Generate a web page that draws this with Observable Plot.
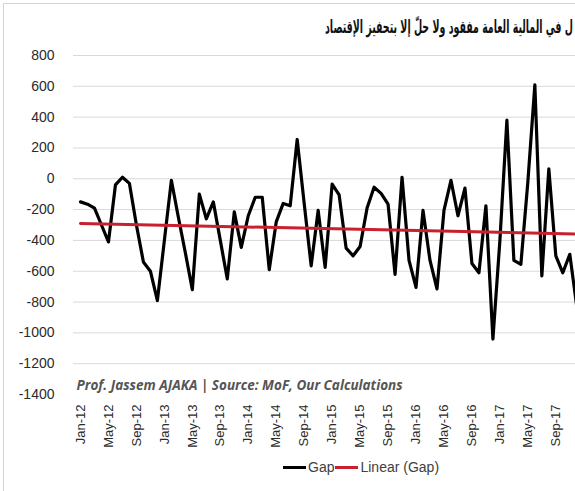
<!DOCTYPE html>
<html>
<head>
<meta charset="utf-8">
<script src="https://cdn.jsdelivr.net/npm/d3@7"></script>
<script src="https://cdn.jsdelivr.net/npm/@observablehq/plot@0.6"></script>
<style>
  html, body { margin: 0; padding: 0; width: 575px; height: 491px; overflow: hidden; background: #fff; }
  #wrap { position: relative; width: 575px; height: 491px; overflow: hidden; }
  #frame { position: absolute; left: 3px; top: 3px; width: 600px; height: 600px; border-left: 1px solid #d4d4d4; border-top: 1px solid #d4d4d4; }
  #title { position: absolute; left: 0; top: 16px; white-space: nowrap; font-family: "DejaVu Sans", sans-serif; font-weight: bold; font-size: 18px; color: #111; transform-origin: 0 0; }
  #chart { position: absolute; left: 0; top: 0; }
  #chart svg { max-width: none !important; }
  #legend { position: absolute; top: 459px; left: 283px; font-family: "Liberation Sans", Arial, sans-serif; font-size: 14px; color: #404040; white-space: nowrap; display: flex; align-items: center; }
  #legend .sw { display: inline-block; width: 23px; height: 3px; margin-right: 2px; }
  #legend .item { display: flex; align-items: center; margin-right: 1px; }
</style>
</head>
<body>
<div id="wrap">
  <div id="frame"></div>
  <div id="chart"></div>
  <div id="title"></div>
  <div id="legend"></div>
</div>
<script>
// ---- data ----
const titleText = "ل في المالية العامة مفقود ولا حلّ إلا بتحفيز الإقتصاد";
const noteText = ["Prof. Jassem AJAKA | Source: MoF, Our Calculations"];
const seriesNames = ["Gap", "Linear (Gap)"];
const seriesColors = ["#000000", "#c8202e"];

// monthly gap, Jan-12 ... Dec-17
const gap2012 = [-150, -165, -190, -300, -410, -40, 10, -30, -300, -540, -600, -790];
const gap2013 = [-400, -10, -250, -480, -720, -100, -260, -150, -400, -650, -215, -445];
const gap2014 = [-240, -120, -120, -590, -280, -160, -175, 255, -160, -565, -205, -575];
const gap2015 = [-35, -105, -450, -500, -440, -190, -55, -95, -165, -620, 10, -530];
const gap2016 = [-705, -205, -530, -715, -205, -10, -240, -60, -550, -610, -175, -1040];
const gap2017 = [-400, 380, -530, -555, -20, 610, -630, 65, -500, -610, -490, -830];

// linear trend at first and last month
const trendEnds = [-290, -358];

const tickLabels = ["Jan-12","May-12","Sep-12","Jan-13","May-13","Sep-13","Jan-14","May-14","Sep-14",
                    "Jan-15","May-15","Sep-15","Jan-16","May-16","Sep-16","Jan-17","May-17","Sep-17"];
const yTicks = [-1400, -1200, -1000, -800, -600, -400, -200, 0, 200, 400, 600, 800];

// ---- build tables ----
const gapValues = [...gap2012, ...gap2013, ...gap2014, ...gap2015, ...gap2016, ...gap2017];
const gapData = gapValues.map((v, i) => ({m: i, v}));
const trendData = [{m: 0, v: trendEnds[0]}, {m: gapValues.length - 1, v: trendEnds[1]}];
const tickIdx = tickLabels.map((_, k) => k * 4);

// ---- layout ----
const W = 640, ML = 73, pxPerMonth = 6.99;
const x0 = -7 / pxPerMonth;
const x1 = x0 + (W - ML) / pxPerMonth;

const chart = Plot.plot({
  width: W,
  height: 454,
  marginLeft: ML,
  marginRight: 0,
  marginTop: 55,
  marginBottom: 60,
  style: {fontFamily: "Liberation Sans, Arial, sans-serif", background: "transparent", color: "#333", maxWidth: "none"},
  x: {domain: [x0, x1]},
  y: {domain: [-1400, 800]},
  marks: [
    Plot.ruleY(yTicks.filter(d => d > -1400), {stroke: "#d9d9d9", strokeWidth: 1}),
    Plot.axisY({ticks: yTicks, tickFormat: d => String(d), tickSize: 0, tickPadding: 19, fontSize: 14, fill: "#2a2a2a", label: null}),
    Plot.axisX({ticks: tickIdx, tickFormat: i => tickLabels[i / 4], tickRotate: -90, tickSize: 0, tickPadding: 10, fontSize: 13, fill: "#2a2a2a", label: null}),
    Plot.lineY(gapData, {x: "m", y: "v", stroke: seriesColors[0], strokeWidth: 3.2, strokeLinejoin: "round", strokeLinecap: "round"}),
    Plot.lineY(trendData, {x: "m", y: "v", stroke: seriesColors[1], strokeWidth: 3}),
    Plot.text(noteText, {frameAnchor: "bottom-left", dx: 3, dy: -5, textAnchor: "start", fontStyle: "italic", fontWeight: "bold", fontSize: 13.5, fill: "#555", fontFamily: "Open Sans, sans-serif"})
  ]
});
chart.style.maxWidth = "none";
document.getElementById("chart").appendChild(chart);

// title: fit the visible title between x=325 and x=573
const title = document.getElementById("title");
title.textContent = titleText;
const tw = title.getBoundingClientRect().width;
const targetW = 248;
title.style.transform = `translateX(325px) scaleX(${targetW / tw})`;

const legend = document.getElementById("legend");
seriesNames.forEach((name, k) => {
  const item = document.createElement("span");
  item.className = "item";
  const sw = document.createElement("span");
  sw.className = "sw";
  sw.style.background = seriesColors[k];
  item.appendChild(sw);
  const t = document.createElement("span");
  t.textContent = name;
  item.appendChild(t);
  legend.appendChild(item);
});
</script>
</body>
</html>
